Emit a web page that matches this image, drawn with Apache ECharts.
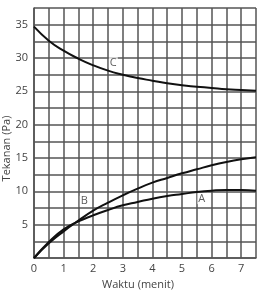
<!DOCTYPE html>
<html>
<head>
<meta charset="utf-8">
<script src="https://cdn.jsdelivr.net/npm/echarts@6/dist/echarts.min.js"></script>
<style>
  html, body { margin: 0; padding: 0; background: #fff; }
  #chart { width: 261px; height: 291px; }
</style>
</head>
<body>
<div id="chart"></div>
<script>
// waktu (menit)
var times = [0, 0.5, 1, 1.5, 2, 2.5, 3, 3.5, 4, 4.5, 5, 5.5, 6, 6.5, 7, 7.5];
// tekanan (Pa)
var curveA = [0, 2.4, 4.3, 5.5, 6.4, 7.2, 7.9, 8.4, 8.9, 9.3, 9.6, 9.9, 10.1, 10.2, 10.2, 10.1];
var curveB = [0, 2.2, 4.0, 5.6, 7.1, 8.3, 9.4, 10.4, 11.3, 12.0, 12.7, 13.3, 13.9, 14.4, 14.8, 15.1];
var curveC = [34.7, 32.6, 31.1, 29.9, 28.9, 28.1, 27.5, 27.0, 26.6, 26.2, 25.9, 25.7, 25.5, 25.3, 25.2, 25.1];

// curve letters
var labelNames = ['A', 'B', 'C'];
var labelX = [5.67, 1.7, 2.68];
var labelY = [8.9, 8.5, 29.3];

var gridColor = '#555';
var textColor = '#444';

function pairs(ys) {
  return times.map(function (t, i) { return [t, ys[i]]; });
}

function curve(name, ys) {
  return {
    name: name,
    type: 'line',
    smooth: true,
    symbol: 'none',
    lineStyle: { color: '#111', width: 2 },
    data: pairs(ys),
    z: 5
  };
}

var chart = echarts.init(document.getElementById('chart'));

var option = {
  animation: false,
  grid: { left: 34, top: 8, right: 5, bottom: 33, outerBoundsMode: 'none', containLabel: false },
  xAxis: {
    type: 'value',
    min: 0,
    max: 7.5,
    interval: 0.5,
    name: 'Waktu (menit)',
    nameLocation: 'middle',
    nameGap: 21,
    nameMoveOverlap: false,
    nameTextStyle: { fontFamily: 'Open Sans', fontSize: 11, color: textColor, padding: [0, 14, 0, 0] },
    axisLine: { lineStyle: { color: gridColor, width: 1.5 } },
    axisTick: { show: false },
    axisLabel: {
      fontFamily: 'Open Sans',
      fontSize: 11,
      color: textColor,
      margin: 5,
      formatter: function (v) {
        return (v % 1 === 0 && v < 7.5) ? String(v) : '';
      }
    },
    splitLine: { show: true, lineStyle: { color: gridColor, width: 1.5 } }
  },
  yAxis: {
    type: 'value',
    min: 0,
    max: 37.5,
    interval: 2.5,
    name: 'Tekanan (Pa)',
    nameLocation: 'middle',
    nameGap: 22,
    nameMoveOverlap: false,
    nameTextStyle: { fontFamily: 'Open Sans', fontSize: 11, color: textColor, padding: [0, 31, 0, 0] },
    axisLine: { show: true, lineStyle: { color: gridColor, width: 1.5 } },
    axisTick: { show: false },
    axisLabel: {
      fontFamily: 'Open Sans',
      fontSize: 11,
      color: textColor,
      margin: 6,
      formatter: function (v) {
        return (v % 5 === 0 && v > 0 && v < 37.5) ? String(v) : '';
      }
    },
    splitLine: { show: true, lineStyle: { color: gridColor, width: 1.5 } }
  },
  series: [
    curve('A', curveA),
    curve('B', curveB),
    curve('C', curveC),
    {
      type: 'scatter',
      symbolSize: 0,
      silent: true,
      z: 6,
      data: labelNames.map(function (n, i) {
        return { name: n, value: [labelX[i], labelY[i]] };
      }),
      label: {
        show: true,
        position: 'inside',
        formatter: '{b}',
        fontFamily: 'Open Sans',
        fontSize: 11,
        color: '#333',
        backgroundColor: '#fff',
        padding: [0, 1]
      }
    }
  ]
};

chart.setOption(option);
</script>
</body>
</html>
